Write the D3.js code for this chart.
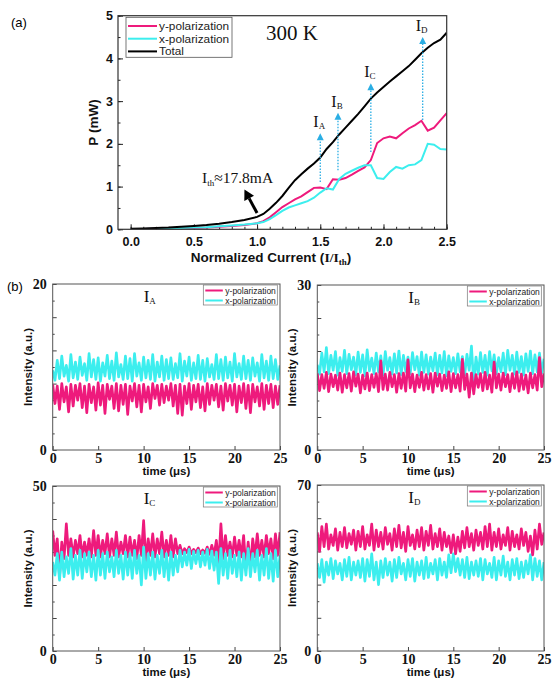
<!DOCTYPE html>
<html><head><meta charset="utf-8">
<script src="https://cdn.jsdelivr.net/npm/d3@7"></script>
<style>body{margin:0;background:#fff}svg{display:block}</style>
</head><body><svg id="c" width="558" height="686"></svg>
<script>
// ---------- panel (a) data ----------
const current = [0,0.1,0.2,0.3,0.4,0.5,0.6,0.7,0.8,0.9,1.0,1.05,1.1,1.15,1.2,1.25,1.3,1.35,1.4,1.45,1.5,1.55,1.6,1.65,1.7,1.75,1.8,1.85,1.9,1.95,2.0,2.05,2.1,2.15,2.2,2.25,2.3,2.35,2.4,2.45,2.5];
const totalP = [0.01,0.02,0.03,0.04,0.06,0.08,0.10,0.13,0.17,0.22,0.29,0.36,0.48,0.62,0.78,0.97,1.15,1.29,1.42,1.54,1.68,1.88,2.04,2.22,2.38,2.54,2.70,2.88,3.06,3.20,3.33,3.46,3.58,3.70,3.82,3.97,4.12,4.25,4.36,4.44,4.60];
const yPolP = [0,0.005,0.01,0.015,0.02,0.03,0.04,0.06,0.08,0.10,0.14,0.19,0.28,0.40,0.52,0.61,0.70,0.77,0.87,0.97,0.98,0.94,1.17,1.16,1.20,1.28,1.37,1.45,1.62,2.02,2.13,2.17,2.13,2.25,2.36,2.44,2.54,2.31,2.38,2.55,2.72];
const xPolP = [0,0.005,0.01,0.02,0.03,0.04,0.05,0.07,0.09,0.11,0.14,0.17,0.24,0.33,0.43,0.51,0.56,0.61,0.66,0.74,0.86,0.96,0.93,1.18,1.30,1.37,1.44,1.50,1.50,1.20,1.18,1.34,1.46,1.42,1.50,1.52,1.62,2.00,1.98,1.88,1.87];
const seriesNames = ["y-polarization","x-polarization","Total"];
const markerNames = ["A","B","C","D"];
const markerCurrent = [1.5,1.64,1.9,2.31];
const markerFromP = [1.11,1.38,1.81,2.56];
const markerToP = [2.25,2.73,3.42,4.5];
const thArrowCurrent = [1.0,0.9];
const thArrowP = [0.38,0.93];
const topXTicks = [0,0.5,1.0,1.5,2.0,2.5];
const topYTicks = [0,1,2,3,4,5];

// ---------- panel (b) data ----------
const panelNames = ["A","B","C","D"];
const panelMax = [20,30,50,70];
const timeTicks = [0,5,10,15,20,25];
const legendNames = ["y-polarization","x-polarization"];
const yPolA = [7.9,5.6,7.7,4.9,8.0,5.8,7.6,4.6,7.9,5.3,7.8,6.0,8.0,5.1,7.7,4.5,7.9,5.7,7.6,4.8,8.1,5.4,7.8,4.4,7.9,6.1,7.7,5.0,8.0,4.7,7.8,5.5,7.9,4.3,7.7,5.9,8.0,5.2,7.8,4.6,7.9,5.8,7.6,5.0,8.0,6.2,7.8,5.4,7.9,5.7,7.7,6.0,8.0,5.3,7.8,4.4,7.9,4.2,7.7,5.6,8.0,4.9,7.8,5.8,7.9,5.1,7.6,4.7,8.0,5.5,7.8,6.0,7.9,5.2,7.7,4.8,8.0,5.9,7.8,5.4,7.9,4.6,7.7,5.7,8.0,5.0,7.8,4.5,7.9,5.8,7.6,5.3,8.0,4.9,7.8,5.6,7.9,5.1,7.7,5.5,7.8];
const xPolA = [9.6,8.4,10.8,8.6,11.3,8.9,10.2,8.3,11.5,8.7,10.6,8.5,11.2,9.0,10.4,8.4,11.6,8.8,10.9,8.5,11.1,8.3,10.5,8.9,11.4,8.6,10.7,8.4,11.7,8.8,10.3,8.5,11.3,8.6,11.0,8.3,11.6,8.9,10.5,8.4,11.2,8.7,10.8,8.5,11.5,8.3,10.6,8.8,11.3,8.4,10.9,8.6,11.1,8.5,10.4,8.7,11.6,8.3,10.7,8.9,11.2,8.4,10.5,8.6,11.4,8.5,10.8,8.3,11.0,8.8,10.3,8.5,11.5,8.6,10.9,8.4,11.2,8.7,10.6,8.3,11.6,8.8,10.4,8.5,11.3,8.6,10.8,8.4,11.1,8.9,10.5,8.3,11.5,8.7,10.7,8.4,11.3,8.6,10.9,8.5,10.2];
const yPolB = [13.9,10.8,13.7,11.2,14.1,10.6,13.8,11.5,13.6,10.9,14.0,10.5,13.7,11.3,13.9,10.7,14.2,11.6,13.8,10.4,13.6,11.1,14.0,10.8,13.7,11.4,13.9,10.6,16.2,11.0,13.8,10.9,14.1,11.5,13.7,10.5,13.9,11.2,14.0,10.7,16.4,11.3,13.8,10.6,13.6,11.4,14.1,10.9,13.7,11.1,13.9,10.5,14.0,11.6,13.8,10.8,13.6,11.2,14.2,10.6,13.9,11.3,13.7,10.7,16.5,11.0,13.8,9.6,14.0,10.2,13.7,11.4,13.9,10.8,14.1,11.1,13.6,10.5,16.0,11.3,13.8,10.9,14.0,11.5,13.7,10.6,13.9,11.2,14.2,10.7,13.8,11.0,13.6,10.4,14.0,11.3,13.7,10.9,16.8,11.5,13.9];
const xPolB = [15.5,13.8,17.6,14.2,18.6,13.9,17.2,14.5,17.9,13.6,16.8,14.3,18.1,13.9,17.4,14.6,16.9,13.7,17.8,14.1,17.3,13.5,18.2,14.4,16.7,13.9,17.6,14.2,17.1,13.6,17.9,14.5,16.8,13.8,17.5,14.0,18.0,13.7,17.2,14.3,16.9,13.9,17.7,14.6,17.0,13.6,17.8,14.1,17.3,13.8,16.9,14.4,17.6,13.7,17.2,14.0,17.9,13.5,17.1,14.3,16.8,13.9,17.5,14.2,17.0,13.6,17.4,14.5,18.9,12.0,16.9,13.8,17.7,14.1,17.2,13.6,17.9,14.4,17.3,13.9,16.8,14.2,17.6,13.7,18.1,14.5,17.2,13.8,17.8,14.1,17.0,13.6,17.5,14.3,18.0,13.9,17.3,14.2,17.6,14.0,16.6];
const yPolC = [36.5,29,34,22.5,33,28,38.5,29,34,28.5,33.5,29.5,35,28.5,33,29,34,28.5,36.5,29,35,28.5,33.5,29.5,35.5,28.5,34,29,36,28.5,33,29.5,35,28.5,34.5,29,33.5,28,35,29,39.5,27,34,29,35.5,28.5,34,29.5,36,28.5,33.5,29,35,28.5,34,29.5,32,29.5,31,29.8,31.5,29.5,30.8,29.8,31.2,29.5,30.6,29.6,31.5,29.3,32,29,33.5,26,38.5,28,35,29,33,28.5,34.5,29,33.5,28.5,35,25,33,25.5,34,28.5,35.5,29,33.5,28.5,35,29.5,34,28,35.5,29,36];
const xPolC = [27,23,29.5,21.5,30,22.5,28.5,23.5,31,21.8,29,23,30.5,22,29.5,24,30,22.5,29,21.5,30.5,23,29.5,22,30,24,28.5,22.5,30.5,23.5,29,21.8,30,23,29.5,22,30.5,23.5,29,20,31.5,22,29.5,23,30,21.8,29,23.5,30.5,22.5,29.5,21.5,30,23,29,24,30.5,25.5,30,26,30.8,25,30.2,26.5,30.5,25.5,30,26,30.8,25,30.3,24.5,30,20.5,31,23,29.5,22,30.5,23.5,29,22.5,30,21.5,29.5,23,31,22.5,29.5,24,30.5,21.5,29,23,31,22,29.5,21.2,30.5,22.5,29];
const yPolD = [50,42,52.5,44,53.5,43,49,44.5,51.5,42.5,50,44,52,43.5,49.5,45,51,42.5,50.5,44,52.5,43,49,44.5,53.5,42.5,51,44,50,43,52,45,49.5,42.5,51.5,44,53,43.5,50,42,52.5,44.5,49,43,51,44,52,42.5,50.5,44.5,53,43,49.5,44,51.5,42.5,50,44,48.5,41.5,49,41,48,42,50.5,43.5,52,44,49.5,42.5,51,44.5,50,43,52.5,44,53.5,42.5,50,44,51.5,43,49,44.5,52,42.5,50.5,44,49,43,51.5,44.5,50,42,48.5,40.5,51,43,53.5,45,50];
const xPolD = [37,31,38.5,29,37.5,32,39,30.5,38,32.5,37,30,38.5,31.5,39.5,30,37.5,32,38,31,39,29.5,38.5,31.5,41,30,37.5,28,38,31,39,32,37.5,29.5,38.5,31,39.5,32.5,37,30,38.5,31.5,39,29.5,37.5,32,38,30.5,39.5,31,37,32.5,38.5,30,39,32,37.5,31,40.5,33,41,33.5,39,32,38.5,31,39.5,30.5,37.5,32,38,31.5,39,30,38.5,32.5,37,31,39.5,30,38,32,40,31.5,37.5,30,38.5,32,39,30.5,37.5,31,38,32.5,40.5,30,39,31.5,38,30,37.5];
const yPolSeries = [yPolA,yPolB,yPolC,yPolD];
const xPolSeries = [xPolA,xPolB,xPolC,xPolD];

// ---------- styles ----------
const PINK = "#EE1A7C", CYAN = "#3CEEEE", ARROW = "#2AAEE4";
const SANS = "'Liberation Sans', Arial, sans-serif";
const SERIF = "'Liberation Serif', 'Times New Roman', serif";
const svg = d3.select("#c");

// ================= PANEL (a) =================
(function(){
  const L=118, R=446.7, T=15.7, B=229.3;
  const x = d3.scaleLinear().domain([-0.1,2.5]).range([L,R]);
  const y = d3.scaleLinear().domain([0,5]).range([B,T]);
  const g = svg.append("g");
  svg.append("text").attr("x",11).attr("y",27).attr("font-family",SANS).attr("font-size",13).text("(a)");

  g.append("g").attr("transform",`translate(0,${B})`)
    .call(d3.axisBottom(x).tickValues(d3.range(0,26).map(i=>i/10)).tickSize(-2.5).tickFormat(""))
    .call(a=>a.select(".domain").remove());
  g.append("g").attr("transform",`translate(${L},0)`)
    .call(d3.axisLeft(y).tickValues(d3.range(0,11).map(i=>i/2)).tickSize(-2.5).tickFormat(""))
    .call(a=>a.select(".domain").remove());
  const ax = g.append("g").attr("transform",`translate(0,${B})`)
    .call(d3.axisBottom(x).tickValues(topXTicks).tickSize(-5).tickPadding(8).tickFormat(d3.format(".1f")));
  ax.select(".domain").remove();
  ax.selectAll("text").attr("font-family",SANS).attr("font-weight","bold").attr("font-size",12.5).attr("fill","#111");
  const ay = g.append("g").attr("transform",`translate(${L},0)`)
    .call(d3.axisLeft(y).tickValues(topYTicks).tickSize(-5).tickPadding(5).tickFormat(d3.format("d")));
  ay.select(".domain").remove();
  ay.selectAll("text").attr("font-family",SANS).attr("font-weight","bold").attr("font-size",12.5).attr("fill","#111");
  g.selectAll(".tick line").attr("stroke","#222");

  const line = d3.line().x((d,i)=>x(current[i])).y(d=>y(d));
  svg.append("clipPath").attr("id","clipA").append("rect").attr("x",L).attr("y",T).attr("width",R-L).attr("height",B-T);
  const lines = g.append("g").attr("clip-path","url(#clipA)");
  lines.append("path").datum(yPolP).attr("d",line).attr("fill","none").attr("stroke",PINK).attr("stroke-width",2);
  lines.append("path").datum(xPolP).attr("d",line).attr("fill","none").attr("stroke",CYAN).attr("stroke-width",2);
  lines.append("path").datum(totalP).attr("d",line).attr("fill","none").attr("stroke","#000").attr("stroke-width",2);

  g.append("rect").attr("x",L).attr("y",T).attr("width",R-L).attr("height",B-T).attr("fill","none").attr("stroke","#333").attr("stroke-width",1.2);

  markerNames.forEach((nm,i)=>{
    const mx = x(markerCurrent[i]), y0 = y(markerFromP[i]), y1 = y(markerToP[i]);
    g.append("line").attr("x1",mx).attr("x2",mx).attr("y1",y0).attr("y2",y1+6)
      .attr("stroke",ARROW).attr("stroke-width",1.3).attr("stroke-dasharray","1.5,1.5");
    g.append("path").attr("d",`M${mx},${y1} L${mx-3.5},${y1+7} L${mx+3.5},${y1+7} Z`).attr("fill",ARROW);
    const t = g.append("text").attr("x",mx-1).attr("y",y1-6).attr("text-anchor","middle")
      .attr("font-family",SERIF).attr("font-size",16).attr("fill","#111");
    t.append("tspan").text("I");
    t.append("tspan").attr("font-size",9).attr("dy",2).text(nm);
  });

  const ax0 = x(thArrowCurrent[0]), ay0 = y(thArrowP[0]), ax1 = x(thArrowCurrent[1]), ay1 = y(thArrowP[1]);
  const ang = Math.atan2(ay1-ay0, ax1-ax0);
  const hl = 10, hw = 5.5;
  const bx = ax1 - hl*Math.cos(ang), by = ay1 - hl*Math.sin(ang);
  g.append("line").attr("x1",ax0).attr("y1",ay0).attr("x2",bx).attr("y2",by).attr("stroke","#000").attr("stroke-width",3);
  g.append("path").attr("d",`M${ax1},${ay1} L${bx+hw*Math.sin(ang)},${by-hw*Math.cos(ang)} L${bx-hw*Math.sin(ang)},${by+hw*Math.cos(ang)} Z`).attr("fill","#000");
  const th = g.append("text").attr("x",202).attr("y",183).attr("font-family",SERIF).attr("font-size",15.5).attr("fill","#111");
  th.append("tspan").text("I");
  th.append("tspan").attr("font-size",9).attr("dy",3).text("th");
  th.append("tspan").attr("dy",-3).text("≈17.8mA");

  g.append("text").attr("x",266).attr("y",40).attr("font-family",SERIF).attr("font-size",21).attr("fill","#111").text("300 K");

  const lg = g.append("g");
  lg.append("rect").attr("x",126).attr("y",17.3).attr("width",106).attr("height",40).attr("fill","#fff").attr("stroke","#555").attr("stroke-width",0.8);
  const cols = [PINK,CYAN,"#000"];
  seriesNames.forEach((s,i)=>{
    const yy = 26 + i*12.7;
    lg.append("line").attr("x1",128).attr("x2",157).attr("y1",yy).attr("y2",yy).attr("stroke",cols[i]).attr("stroke-width",2);
    lg.append("text").attr("x",159).attr("y",yy+4).attr("font-family",SANS).attr("font-size",11.8).attr("fill","#222").text(s);
  });

  const xt = g.append("text").attr("x",271).attr("y",262).attr("text-anchor","middle").attr("font-family",SANS).attr("font-weight","bold").attr("font-size",13.5).attr("fill","#111");
  xt.append("tspan").text("Normalized Current (");
  xt.append("tspan").attr("font-family",SERIF).text("I/I");
  xt.append("tspan").attr("font-family",SERIF).attr("font-size",9).attr("dy",3).text("th");
  xt.append("tspan").attr("dy",-3).text(")");
  g.append("text").attr("transform",`translate(98,${(T+B)/2}) rotate(-90)`).attr("text-anchor","middle")
    .attr("font-family",SANS).attr("font-weight","bold").attr("font-size",13.5).attr("fill","#111").text("P (mW)");
})();

// ================= PANEL (b) =================
svg.append("text").attr("x",7).attr("y",291).attr("font-family",SANS).attr("font-size",13).text("(b)");
const boxes = [
  {L:52.7,R:280,T:284,B:450},
  {L:317.3,R:544,T:285,B:450},
  {L:52.7,R:280,T:486,B:651},
  {L:317.3,R:544,T:485,B:651}
];
boxes.forEach((bx,i)=>{
  const {L,R,T,B} = bx;
  const x = d3.scaleLinear().domain([0,25]).range([L,R]);
  const y = d3.scaleLinear().domain([0,panelMax[i]]).range([B,T]);
  const g = svg.append("g");
  const step = panelMax[i]/10;
  g.append("g").attr("transform",`translate(${L},0)`)
    .call(d3.axisLeft(y).tickValues(d3.range(1,10).filter(k=>k%2).map(k=>k*step)).tickSize(-2).tickFormat(""))
    .call(a=>a.select(".domain").remove());
  const ay = g.append("g").attr("transform",`translate(${L},0)`)
    .call(d3.axisLeft(y).tickValues(d3.range(0,11,2).map(k=>k*step)).tickSize(-4).tickPadding(6)
      .tickFormat(v=> (v===0||v===panelMax[i]) ? d3.format("d")(v) : ""));
  ay.select(".domain").remove();
  const axb = g.append("g").attr("transform",`translate(0,${B})`)
    .call(d3.axisBottom(x).tickValues(timeTicks).tickSize(-4).tickPadding(3).tickFormat(d3.format("d")));
  axb.select(".domain").remove();
  g.selectAll("text").attr("font-family",SERIF).attr("font-weight","bold").attr("font-size",14).attr("fill","#111");
  g.selectAll(".tick line").attr("stroke","#444");

  svg.append("clipPath").attr("id","clipB"+i).append("rect").attr("x",L).attr("y",T).attr("width",R-L).attr("height",B-T);
  const lines = g.append("g").attr("clip-path",`url(#clipB${i})`);
  const ln = d3.line().x((d,k,a)=>x(k*25/(a.length-1))).y(d=>y(d));
  const order = i===2 ? [["y",PINK],["x",CYAN]] : [["x",CYAN],["y",PINK]];
  order.forEach(([s,c])=>{
    const data = s==="y" ? yPolSeries[i] : xPolSeries[i];
    lines.append("path").datum(data).attr("d",ln).attr("fill","none").attr("stroke",c).attr("stroke-width",2.7).attr("stroke-linejoin","round");
  });

  g.append("rect").attr("x",L).attr("y",T).attr("width",R-L).attr("height",B-T).attr("fill","none").attr("stroke","#555").attr("stroke-width",1);

  const lx = R-76.7, ly = T+1;
  g.append("rect").attr("x",lx).attr("y",ly).attr("width",74).attr("height",20).attr("fill","#fff").attr("stroke","#777").attr("stroke-width",0.7);
  legendNames.forEach((s,k)=>{
    const yy = ly+5.5+k*10;
    g.append("line").attr("x1",lx+2).attr("x2",lx+19.5).attr("y1",yy).attr("y2",yy).attr("stroke",k===0?PINK:CYAN).attr("stroke-width",2);
    g.append("text").attr("x",lx+22).attr("y",yy+3).attr("font-family",SANS).attr("font-size",8.5).attr("fill","#222").text(s);
  });

  const tt = g.append("text").attr("x",L+91).attr("y",T+18).attr("font-family",SERIF).attr("font-size",17).attr("fill","#111");
  tt.append("tspan").text("I");
  tt.append("tspan").attr("font-size",9).attr("dy",2).text(panelNames[i]);

  g.append("text").attr("x",(L+R)/2).attr("y",B+25).attr("text-anchor","middle").attr("font-family",SANS).attr("font-weight","bold").attr("font-size",11.5).attr("fill","#111").text("time (μs)");
  g.append("text").attr("transform",`translate(${L-21},${(T+B)/2}) rotate(-90)`).attr("text-anchor","middle")
    .attr("font-family",SANS).attr("font-weight","bold").attr("font-size",11.5).attr("fill","#111").text("Intensity (a.u.)");
});
</script></body></html>
